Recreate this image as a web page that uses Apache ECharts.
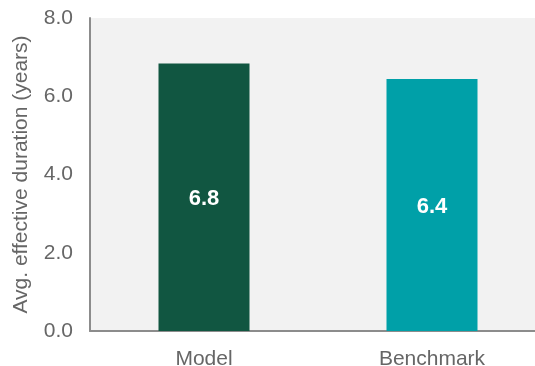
<!DOCTYPE html>
<html>
<head>
<meta charset="utf-8">
<script src="https://cdn.jsdelivr.net/npm/echarts@6/dist/echarts.min.js"></script>
<style>
  html, body { margin: 0; padding: 0; background: #fff; }
  #chart { width: 535px; height: 366px; }
</style>
</head>
<body>
<div id="chart"></div>
<script>
// categories and values
const categories = ['Model', 'Benchmark']
const durations = [6.84, 6.44]
const barColors = ['#115641', '#00a0a8']
const yTicks = { min: 0, max: 8, interval: 2 }

const chart = echarts.init(document.getElementById('chart'))
const option = {
  animation: false,
  textStyle: { fontFamily: 'Liberation Sans, Arial, sans-serif' },
  grid: {
    left: 90,
    right: -11, // plot runs past the right edge of the picture
    top: 18,
    bottom: 35,
    outerBoundsMode: 'none',
    containLabel: false,
    show: true,
    backgroundColor: '#f2f2f2',
    borderWidth: 0
  },
  xAxis: {
    type: 'category',
    data: categories,
    axisLine: { show: true, lineStyle: { color: '#8c8c8c', width: 2 } },
    axisTick: { show: false },
    axisLabel: { color: '#666', fontSize: 21, margin: 18 }
  },
  yAxis: {
    type: 'value',
    min: yTicks.min,
    max: yTicks.max,
    interval: yTicks.interval,
    name: 'Avg. effective duration (years)',
    nameLocation: 'middle',
    nameGap: 58,
    nameTextStyle: { color: '#666', fontSize: 21 },
    axisLine: { show: true, lineStyle: { color: '#8c8c8c', width: 2 } },
    axisTick: { show: false },
    splitLine: { show: false },
    axisLabel: {
      color: '#666',
      fontSize: 21,
      margin: 17,
      formatter: (v) => v.toFixed(1)
    }
  },
  series: [{
    type: 'bar',
    barWidth: 91,
    data: durations.map((v, i) => ({ value: v, itemStyle: { color: barColors[i] } })),
    label: {
      show: true,
      position: 'inside',
      offset: [0, 2],
      color: '#fff',
      fontWeight: 'bold',
      fontSize: 22,
      formatter: (p) => Math.floor(p.value * 10 + 1e-9) / 10 + ''
    }
  }]
}
chart.setOption(option)
</script>
</body>
</html>
